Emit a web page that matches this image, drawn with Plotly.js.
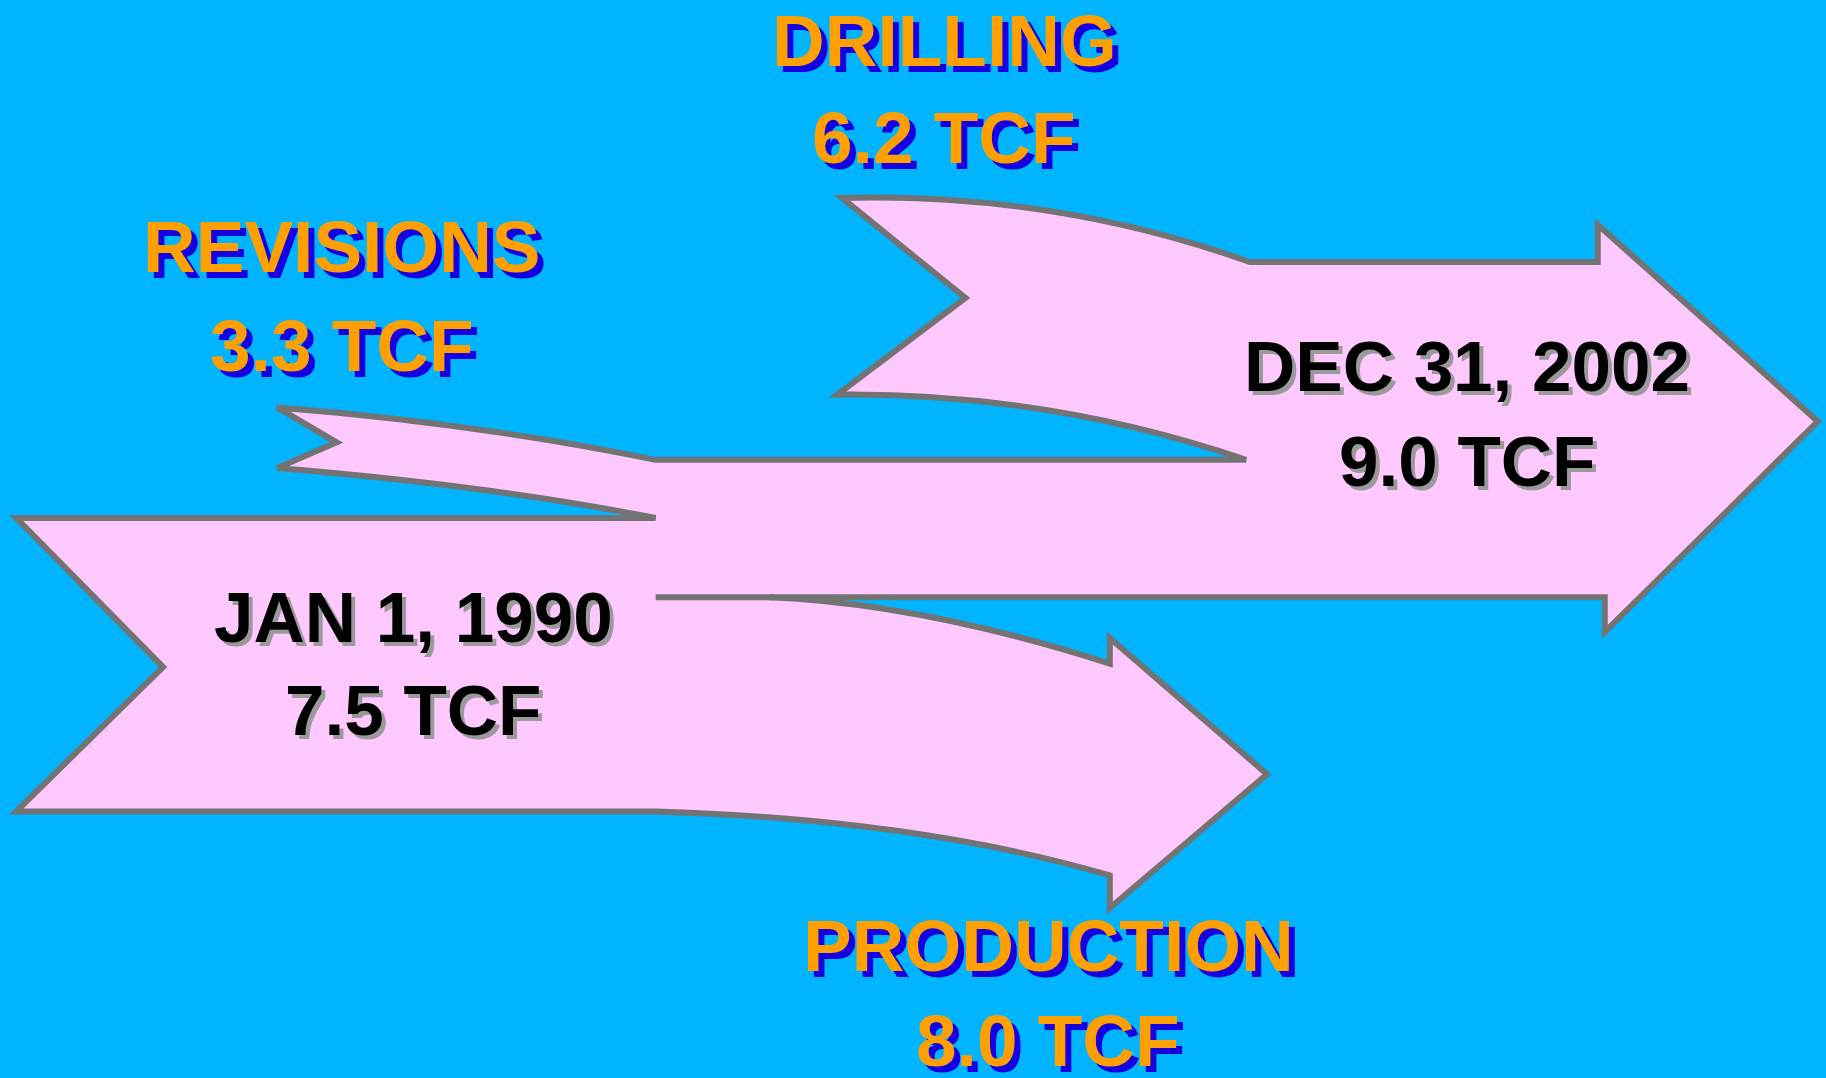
<!DOCTYPE html>
<html>
<head>
<meta charset="utf-8">
<script src="https://cdn.plot.ly/plotly-3.0.1.min.js"></script>
<style>html,body{margin:0;padding:0;background:#00B4FF;overflow:hidden}#chart{width:1826px;height:1078px}</style>
</head>
<body>
<div id="chart"></div>
<script>
// ---- data ----
const stages = ["JAN 1, 1990", "REVISIONS", "DRILLING", "PRODUCTION", "DEC 31, 2002"];
const volumesTCF = [7.5, 3.3, 6.2, 8.0, 9.0];
const unit = "TCF";
const labelKind = ["date", "flow", "flow", "flow", "date"];

// ---- layout (diagram coordinates, 1568 x 926 space) ----
const labelX = [355, 294, 811, 900, 1260];
const labelY1 = [530, 212, 34.5, 812, 315];
const labelY2 = [610, 297, 118, 894, 396];

const BG = "#00B4FF", PINK = "#FFC8FF", EDGE = "#737373";
const ORANGE = "#FFA000", BLUE = "#1400E0";

const flowPath = [
  "M 14 445", "L 563 445",
  "Q 421 417 238 402",
  "L 289 380", "L 238 350",
  "Q 405 363 563 395",
  "L 1070 395",
  "Q 900 337 719 339",
  "L 829 256", "L 723 170",
  "Q 905 165 1073 225",
  "L 1372 225", "L 1372 193", "L 1561 362", "L 1378 543", "L 1378 513",
  "L 660 513",
  "Q 790 518 953 570",
  "L 953 548", "L 1088 665", "L 953 780", "L 953 752",
  "Q 790 704 563 697",
  "L 14 697", "L 140 573", "Z"
].join(" ");

const shapes = [
  {type: "path", path: flowPath, xref: "x", yref: "y",
   fillcolor: PINK, line: {color: EDGE, width: 6}, layer: "above"},
  {type: "line", x0: 563, y0: 513, x1: 665, y1: 513, xref: "x", yref: "y",
   line: {color: EDGE, width: 6}, layer: "above"}
];

const annotations = [];
function addText(txt, x, y, isDate) {
  const col = isDate ? "#000000" : ORANGE;
  const sh = isDate ? "#9A9A9A" : BLUE;
  const off = isDate ? 4 : 6;
  const size = isDate ? 71 : 73;
  const base = {x: x, y: y, xref: "x", yref: "y", showarrow: false,
    xanchor: "center", yanchor: "middle", text: txt};
  annotations.push(Object.assign({}, base, {xshift: off, yshift: -off,
    font: {family: "Liberation Sans, Arial, sans-serif", size: size, color: sh, weight: 700}}));
  annotations.push(Object.assign({}, base, {
    font: {family: "Liberation Sans, Arial, sans-serif", size: size, color: col, weight: 700}}));
}
for (let i = 0; i < stages.length; i++) {
  const isDate = labelKind[i] === "date";
  addText("<b>" + stages[i] + "</b>", labelX[i], labelY1[i], isDate);
  addText("<b>" + volumesTCF[i].toFixed(1) + " " + unit + "</b>", labelX[i], labelY2[i], isDate);
}

const layout = {
  width: 1826, height: 1078,
  margin: {l: 0, r: 0, t: 0, b: 0, pad: 0},
  paper_bgcolor: BG, plot_bgcolor: BG,
  xaxis: {range: [0, 1568], visible: false, fixedrange: true},
  yaxis: {range: [926, 0], visible: false, fixedrange: true},
  showlegend: false,
  shapes: shapes,
  annotations: annotations
};

Plotly.newPlot("chart", [{x: [], y: [], type: "scatter", mode: "markers", hoverinfo: "skip"}], layout,
  {displayModeBar: false, staticPlot: true});
</script>
</body>
</html>
